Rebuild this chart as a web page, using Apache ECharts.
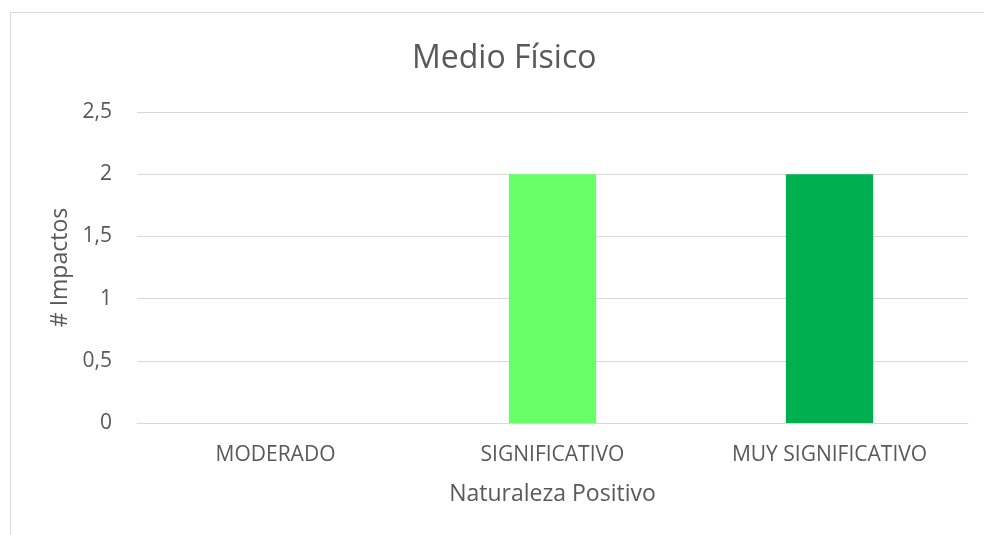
<!DOCTYPE html>
<html>
<head>
<meta charset="utf-8">
<script src="https://cdn.jsdelivr.net/npm/echarts@6/dist/echarts.min.js"></script>
<style>
  html, body { margin: 0; padding: 0; background: #fff; }
  #chart { width: 984px; height: 535px; }
</style>
</head>
<body>
<div id="chart"></div>
<script>
// datos
const categorias = ['MODERADO', 'SIGNIFICATIVO', 'MUY SIGNIFICATIVO'];
const impactos = [0, 2, 2];
const colores = ['#66FF66', '#66FF66', '#00B050'];

const chart = echarts.init(document.getElementById('chart'));
const fuente = '"Open Sans", "Noto Sans", sans-serif';

chart.setOption({
    backgroundColor: '#fff',
    textStyle: { fontFamily: fuente },
    title: {
        text: 'Medio Físico',
        left: 407,
        top: 38,
        textStyle: { fontSize: 32, fontWeight: 'normal', color: '#595959', fontFamily: fuente }
    },
    graphic: [{
        type: 'rect',
        shape: { x: 10.5, y: 12.5, width: 990, height: 540 },
        style: { fill: 'none', stroke: '#D9D9D9', lineWidth: 1 },
        silent: true
    }],
    grid: { left: 137, right: 16, top: 112, bottom: 112 },
    xAxis: {
        type: 'category',
        data: categorias,
        name: 'Naturaleza Positivo',
        nameLocation: 'middle',
        nameGap: 60,
        nameTextStyle: { fontSize: 23, color: '#595959' },
        axisLine: { lineStyle: { color: '#D9D9D9' } },
        axisTick: { show: false },
        axisLabel: { fontSize: 21, color: '#595959', margin: 22 }
    },
    yAxis: {
        type: 'value',
        min: 0,
        max: 2.5,
        interval: 0.5,
        name: '# Impactos',
        nameLocation: 'middle',
        nameGap: 62,
        nameTextStyle: { fontSize: 23, color: '#595959' },
        axisLine: { show: false },
        axisTick: { show: false },
        splitLine: { lineStyle: { color: '#D9D9D9' } },
        axisLabel: {
            fontSize: 21,
            color: '#595959',
            margin: 25,
            formatter: v => String(v).replace('.', ',')
        }
    },
    series: [{
        type: 'bar',
        barWidth: '31.5%',
        data: impactos.map((v, i) => ({ value: v, itemStyle: { color: colores[i] } }))
    }]
});
</script>
</body>
</html>
